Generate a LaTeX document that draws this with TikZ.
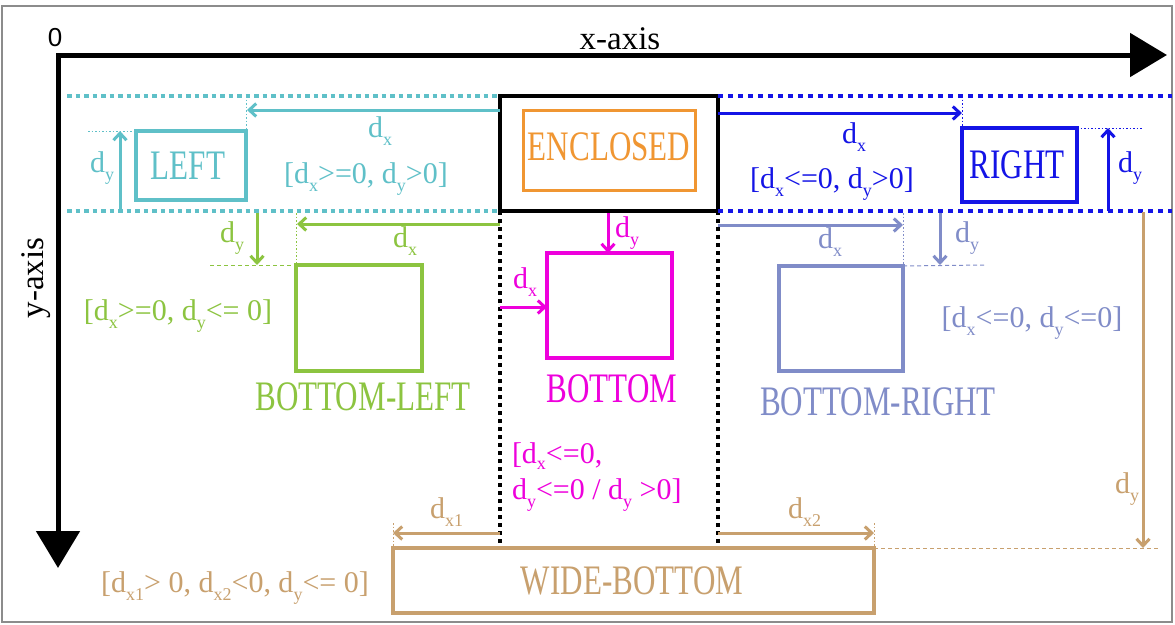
\documentclass[tikz,border=0pt]{standalone}
\usepackage{fontspec}
\setmainfont{Liberation Serif}
\newfontfamily\condf{Liberation Serif}[FakeStretch=0.74]
\newfontfamily\sansf{Liberation Sans}
\usetikzlibrary{arrows.meta}

\definecolor{cyanc}{RGB}{95,192,200}
\definecolor{bluec}{RGB}{20,20,230}
\definecolor{orangec}{RGB}{240,150,50}
\definecolor{greenc}{RGB}{140,196,64}
\definecolor{magc}{RGB}{238,0,220}
\definecolor{purc}{RGB}{128,140,200}
\definecolor{tanc}{RGB}{200,160,110}

\newcommand\subf{\fontsize{18}{18}\selectfont}
\newcommand\dd[1]{d\raisebox{-8pt}{\subf #1}}
\newcommand\bigf{\condf\fontsize{42}{44}\selectfont}
\newcommand\labf{\fontsize{30}{31}\selectfont}

\begin{document}
\begin{tikzpicture}[x=1pt,y=-1pt,
  every node/.style={inner sep=0pt, outer sep=0pt},
  region/.style={draw=#1, line width=4pt},
  title/.style={text=#1, font=\bigf, anchor=base},
  lab/.style={text=#1, font=\labf, anchor=base west},
  labc/.style={text=#1, font=\labf, anchor=base},
  arr/.style={draw=#1, line width=3pt, -{Straight Barb[length=7pt,width=13pt]}},
  band/.style={draw=#1, line width=4pt, dash pattern=on 4.5pt off 4pt},
  guide/.style={draw=#1, line width=1pt, dash pattern=on 1.5pt off 2pt},
  tick/.style={draw=#1, line width=1pt, dash pattern=on 4pt off 3pt},
  axis/.style={line width=5pt, {Triangle[length=37pt,width=43pt]}-{Triangle[length=37pt,width=43pt]}}
]
\useasboundingbox (0,0) rectangle (1175,624);
\fill[white] (0,0) rectangle (1175,624);
\draw[black!45, line width=1.5pt] (2,6) rectangle (1172,622);

% axes
\coordinate (O) at (58,55);
\coordinate (xend) at (1167,55);
\coordinate (yend) at (58,568);
\draw[axis] (xend) -- (O) -- (yend);
\node[font=\sansf\fontsize{26}{26}\selectfont] (zero) at (55,38) {0};
\node[font=\fontsize{33}{33}\selectfont, anchor=base] (xlab) at (620,49) {x-axis};
\node[font=\fontsize{33}{33}\selectfont, rotate=90, anchor=base] (ylab) at (43,278) {y-axis};

% enclosed reference box
\node[draw, line width=3.5pt, minimum width=218, minimum height=115] (encl) at (609,153.5) {};
\node[region=orangec, line width=3pt, minimum width=172, minimum height=80] (inner) at (609,150) {};
\node[title=orangec] (encllab) at (609,160) {ENCLOSED};

% black guides below the reference box
\coordinate (gl) at (500,548);
\coordinate (gr) at (718,548);
\draw[line width=3.5pt, dash pattern=on 4pt off 4pt] (encl.south west) -- (gl);
\draw[line width=3.5pt, dash pattern=on 4pt off 4pt] (encl.south east) -- (gr);

% ---------- LEFT ----------
\coordinate (cl1) at (67,96);
\coordinate (cl2) at (67,211);
\draw[band=cyanc] (cl1) -- (encl.north west);
\draw[band=cyanc] (cl2) -- (encl.south west);
\node[region=cyanc, minimum width=110, minimum height=69] (left) at (191,165.5) {};
\node[title=cyanc] (leftlab) at (188,179) {LEFT};
\coordinate (ca1) at (500,110);
\coordinate (ca2) at (247,110);
\coordinate (ca3) at (246,96);
\draw[arr=cyanc] (ca1) -- (ca2);
\draw[guide=cyanc] (ca3) -- (left.north east);
\coordinate (cy1) at (120,211);
\coordinate (cy2) at (120,131);
\coordinate (cy3) at (88,131);
\draw[arr=cyanc] (cy1) -- (cy2);
\draw[guide=cyanc] (cy3) -- (left.north west);
\node[lab=cyanc] (cdx) at (368,137) {\dd{x}};
\node[lab=cyanc] (cdy) at (90,172) {\dd{y}};
\node[labc=cyanc] (ccond) at (366,183) {[\dd{x}>=0, \dd{y}>0]};

% ---------- RIGHT ----------
\coordinate (br1) at (1172,96);
\coordinate (br2) at (1172,211);
\draw[band=bluec, dash pattern=on 5pt off 5pt] (encl.north east) -- (br1);
\draw[band=bluec, dash pattern=on 5pt off 5pt] (encl.south east) -- (br2);
\node[region=bluec, minimum width=115, minimum height=74] (right) at (1019.5,165) {};
\node[title=bluec] (rightlab) at (1017,178) {RIGHT};
\coordinate (ba1) at (718,113);
\coordinate (ba2) at (962,113);
\coordinate (ba3) at (962,96);
\draw[arr=bluec] (ba1) -- (ba2);
\draw[guide=bluec] (ba3) -- (right.north west);
\coordinate (by1) at (1108,211);
\coordinate (by2) at (1108,128);
\coordinate (by3) at (1142,128);
\draw[arr=bluec] (by1) -- (by2);
\draw[guide=bluec] (right.north east) -- (by3);
\node[lab=bluec] (bdx) at (842,143) {\dd{x}};
\node[lab=bluec] (bdy) at (1118,172) {\dd{y}};
\node[labc=bluec] (bcond) at (832,188) {[\dd{x}<=0, \dd{y}>0]};

% ---------- BOTTOM-LEFT ----------
\node[region=greenc, minimum width=126, minimum height=106] (bl) at (359,318) {};
\node[title=greenc] (bllab) at (363,410) {BOTTOM-LEFT};
\coordinate (ga1) at (500,224);
\coordinate (ga2) at (297,224);
\coordinate (ga3) at (296,213);
\draw[arr=greenc] (ga1) -- (ga2);
\draw[guide=greenc] (ga3) -- (bl.north west);
\coordinate (gy1) at (257,213);
\coordinate (gy2) at (257,265);
\coordinate (gy3) at (210,265);
\draw[arr=greenc] (gy1) -- (gy2);
\draw[tick=greenc] (gy3) -- (bl.north west);
\node[lab=greenc] (gdx) at (393,247) {\dd{x}};
\node[lab=greenc] (gdy) at (220,242) {\dd{y}};
\node[labc=greenc] (gcond) at (178,320) {[\dd{x}>=0, \dd{y}<= 0]};

% ---------- BOTTOM ----------
\node[region=magc, minimum width=125, minimum height=105] (bot) at (609.5,305.5) {};
\node[title=magc] (botlab) at (612,402) {BOTTOM};
\coordinate (my1) at (608,213);
\draw[arr=magc] (my1) -- (bot.north -| my1);
\coordinate (mx1) at (500,307);
\draw[arr=magc] (mx1) -- (bot.west |- mx1);
\node[lab=magc] (mdy) at (615,237) {\dd{y}};
\node[lab=magc] (mdx) at (513,288) {\dd{x}};
\node[lab=magc] (mcond1) at (512,463) {[d\raisebox{-6pt}{\subf x}<=0,};
\node[lab=magc] (mcond2) at (512,499) {\dd{y}<=0 / \dd{y} >0]};

% ---------- BOTTOM-RIGHT ----------
\node[region=purc, minimum width=124, minimum height=105] (brb) at (841,318.5) {};
\node[title=purc] (brlab) at (878,415) {BOTTOM-RIGHT};
\coordinate (pa1) at (718,225);
\coordinate (pa2) at (903,225);
\coordinate (pa3) at (903,213);
\draw[arr=purc] (pa1) -- (pa2);
\draw[guide=purc] (pa3) -- (brb.north east);
\coordinate (py1) at (940,213);
\coordinate (py2) at (940,265);
\coordinate (py3) at (985,265);
\draw[arr=purc] (py1) -- (py2);
\draw[tick=purc] (brb.north east) -- (py3);
\node[lab=purc] (pdx) at (818,248) {\dd{x}};
\node[lab=purc] (pdy) at (955,242) {\dd{y}};
\node[labc=purc] (pcond) at (1032,327) {[\dd{x}<=0, \dd{y}<=0]};

% ---------- WIDE-BOTTOM ----------
\node[region=tanc, minimum width=481, minimum height=65] (wide) at (633.5,580.5) {};
\node[title=tanc] (widelab) at (632,594) {WIDE-BOTTOM};
\coordinate (ta1) at (500,533);
\coordinate (ta2) at (393,533);
\coordinate (ta3) at (393,523);
\draw[arr=tanc] (ta1) -- (ta2);
\draw[guide=tanc] (ta3) -- (wide.north west);
\coordinate (tb1) at (718,533);
\coordinate (tb2) at (874,533);
\coordinate (tb3) at (874,523);
\draw[arr=tanc] (tb1) -- (tb2);
\draw[guide=tanc] (tb3) -- (wide.north east);
\coordinate (ty1) at (1143,212);
\coordinate (ty2) at (1143,548);
\coordinate (ty3) at (1158,548);
\draw[arr=tanc] (ty1) -- (ty2);
\draw[tick=tanc] (wide.north east) -- (ty3);
\node[lab=tanc] (tdx1) at (430,518) {\dd{x1}};
\node[lab=tanc] (tdx2) at (788,518) {\dd{x2}};
\node[lab=tanc] (tdy) at (1115,493) {\dd{y}};
\node[labc=tanc] (tcond) at (235,592) {[\dd{x1}> 0, \dd{x2}<0, \dd{y}<= 0]};
\end{tikzpicture}
\end{document}
